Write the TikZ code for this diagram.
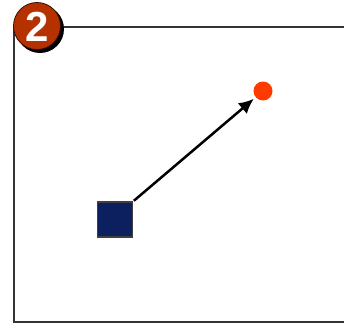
\documentclass[tikz,border=0pt]{standalone}
\usepackage{fontspec}
\setsansfont{Liberation Sans}
\usepackage{tikz}
\usetikzlibrary{arrows.meta}
\definecolor{badgered}{HTML}{B53200}
\definecolor{sqblue}{HTML}{0C1F5E}
\definecolor{dotred}{HTML}{FF3A00}
\begin{document}
\begin{tikzpicture}[x=1pt,y=-1pt,>={Latex[length=15pt,width=14pt]}]
\useasboundingbox (0,0) rectangle (344,324);
\begin{scope}
\clip (0,0) rectangle (344,324);
\draw[line width=1.6pt,black!80] (14,27) rectangle (360,322);
\end{scope}
\fill[black] (40,29) circle (24);
\fill[badgered,draw=black!70!badgered,line width=0.8pt] (37,26) circle (23.5);
\node[text=white,font=\fontsize{42}{42}\sffamily\bfseries] (badge) at (37,27) {2};
\node[draw=black!75,line width=1.2pt,fill=sqblue,minimum size=35pt,inner sep=0pt] (sq) at (115,219.5) {};
\node[circle,fill=dotred,minimum size=19pt,inner sep=0pt] (dot) at (263,91) {};
\draw[->,line width=2.5pt,shorten <=1pt,shorten >=12pt] (sq.north east) -- (dot.center);
\end{tikzpicture}
\end{document}
